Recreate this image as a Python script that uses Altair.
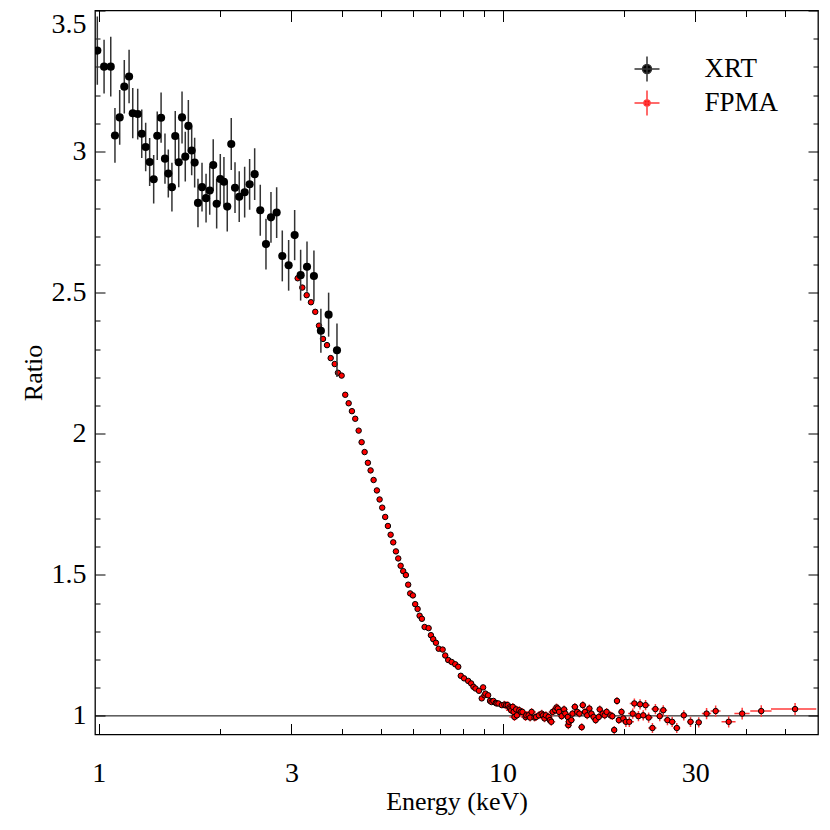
import altair as alt
import pandas as pd

# ---------------- data ----------------
xrt_energy = [0.992, 1.031, 1.071, 1.097, 1.127, 1.157, 1.189, 1.214, 1.249, 1.278,
              1.307, 1.337, 1.368, 1.396, 1.427, 1.459, 1.487, 1.518, 1.547, 1.578,
              1.608, 1.638, 1.667, 1.699, 1.728, 1.761, 1.802, 1.844, 1.883, 1.921,
              1.959, 2.000, 2.042, 2.081, 2.129, 2.175, 2.228, 2.298, 2.364, 2.433,
              2.512, 2.595, 2.670, 2.758, 2.848, 2.953, 3.056, 3.162, 3.279, 3.411,
              3.549, 3.709, 3.890]
xrt_ratio = [3.358, 3.301, 3.301, 3.057, 3.121, 3.230, 3.266, 3.136, 3.133, 3.063,
             3.016, 2.963, 2.902, 3.056, 3.120, 2.975, 2.922, 2.874, 3.055, 2.962,
             3.121, 2.982, 3.091, 3.004, 2.961, 2.818, 2.874, 2.835, 2.862, 2.952,
             2.815, 2.903, 2.893, 2.805, 3.027, 2.872, 2.840, 2.856, 2.884, 2.920,
             2.792, 2.672, 2.767, 2.784, 2.630, 2.597, 2.704, 2.562, 2.592, 2.559,
             2.365, 2.422, 2.296]
xrt_ratio_err = [0.121, 0.095, 0.106, 0.097, 0.097, 0.095, 0.095, 0.089, 0.090, 0.086,
                 0.086, 0.085, 0.086, 0.086, 0.089, 0.089, 0.085, 0.086, 0.089, 0.088,
                 0.092, 0.088, 0.092, 0.088, 0.088, 0.086, 0.086, 0.086, 0.086, 0.092,
                 0.088, 0.088, 0.088, 0.088, 0.092, 0.090, 0.090, 0.090, 0.090, 0.092,
                 0.090, 0.090, 0.090, 0.090, 0.090, 0.090, 0.089, 0.090, 0.089, 0.090,
                 0.078, 0.078, 0.095]

# FPMA, steep part (3-8 keV): error bars hidden under the markers
fpma_energy_steep = [3.109, 3.192, 3.273, 3.354, 3.437, 3.511, 3.592, 3.675, 3.753, 3.840,
                     3.912, 3.995, 4.078, 4.158, 4.236, 4.317, 4.402, 4.477, 4.554, 4.640,
                     4.712, 4.793, 4.884, 4.960, 5.035, 5.121, 5.201, 5.282, 5.361, 5.444,
                     5.516, 5.592, 5.675, 5.762, 5.838, 5.905, 5.997, 6.076, 6.160, 6.231,
                     6.313, 6.411, 6.559, 6.646, 6.734, 6.839, 6.945, 7.105, 7.211, 7.335,
                     7.479, 7.634, 7.766]
fpma_ratio_steep = [2.551, 2.518, 2.491, 2.466, 2.432, 2.383, 2.336, 2.314, 2.268, 2.247,
                    2.216, 2.206, 2.138, 2.108, 2.080, 2.053, 2.011, 1.970, 1.935, 1.897,
                    1.870, 1.836, 1.799, 1.767, 1.738, 1.705, 1.673, 1.642, 1.615, 1.583,
                    1.558, 1.532, 1.513, 1.499, 1.465, 1.434, 1.427, 1.396, 1.379, 1.355,
                    1.344, 1.315, 1.311, 1.286, 1.272, 1.259, 1.238, 1.235, 1.214, 1.198,
                    1.191, 1.183, 1.174]
fpma_err_steep = (0.004, 0.03)   # (ratio error, energy half-width)

fpma_energy_knee = [7.88, 8.03, 8.22, 8.36, 8.47, 8.57, 8.74, 8.88, 8.95, 9.02,
                    9.07, 9.21, 9.31, 9.39, 9.49, 9.62, 9.67, 9.77, 9.96]
fpma_ratio_knee = [1.142, 1.133, 1.124, 1.115, 1.103, 1.097, 1.089, 1.062, 1.101, 1.073,
                   1.079, 1.073, 1.053, 1.049, 1.053, 1.046, 1.044, 1.044, 1.038]
fpma_err_knee = (0.008, 0.10)

fpma_energy_flat = [10.1, 10.2, 10.3, 10.4, 10.45, 10.5, 10.6, 10.65, 10.7, 10.8,
                    10.85, 11.0, 11.1, 11.2, 11.4, 11.45, 11.6, 11.7, 11.8, 12.0,
                    12.1, 12.3, 12.5, 12.6, 12.7, 12.8, 13.0, 13.1, 13.2, 13.3,
                    13.5, 13.6, 13.7, 13.8, 14.0, 14.2, 14.3, 14.5, 14.55, 14.6,
                    14.8, 14.9, 15.1, 15.3, 15.5, 15.7, 15.8, 16.0, 16.2, 16.4,
                    16.6, 16.8, 17.0, 17.3, 17.4, 17.7, 17.9, 18.1, 18.5, 18.7,
                    18.9, 19.2, 19.4, 19.7, 19.9]
fpma_ratio_flat = [1.040, 1.038, 1.038, 1.030, 1.026, 1.020, 1.032, 1.014, 0.996, 1.023,
                   1.002, 1.020, 1.014, 1.014, 0.996, 1.002, 1.002, 0.994, 1.014, 0.994,
                   0.996, 1.002, 1.008, 1.002, 0.991, 1.002, 0.996, 0.985, 0.979, 1.014,
                   1.020, 1.030, 1.026, 1.014, 0.999, 1.023, 1.008, 0.996, 0.967, 0.979,
                   0.985, 1.008, 1.032, 1.014, 1.008, 0.960, 1.038, 1.014, 1.002, 1.026,
                   1.008, 0.996, 0.985, 0.996, 1.023, 1.008, 1.002, 1.014, 1.002, 0.999,
                   0.950, 1.053, 0.985, 1.014, 0.991]
fpma_err_flat = (0.014, 0.30)

fpma_energy_high = [20.2, 20.6, 21.0, 21.2, 21.7, 21.9, 22.3, 22.6, 23.0, 23.5,
                    23.9, 24.5, 25.0, 25.6, 26.3, 27.0, 28.1, 29.2, 30.6]
fpma_ratio_high = [0.979, 0.979, 1.008, 1.044, 0.999, 1.041, 1.002, 1.038, 0.994, 0.957,
                   1.024, 0.999, 1.020, 0.985, 0.979, 0.957, 1.002, 0.979, 0.977]
fpma_err_high = (0.018, 0.55)

fpma_energy_wide = [32.0, 33.7, 36.3, 39.2, 43.7, 53.0]
fpma_ratio_wide = [1.008, 1.017, 0.979, 1.008, 1.017, 1.024]
fpma_ratio_err_wide = [0.020, 0.020, 0.020, 0.021, 0.021, 0.022]
fpma_energy_err_wide = [0.85, 0.95, 1.45, 1.7, 2.65, 6.8]

legend_names = ["XRT", "FPMA"]
unity_level = [1.0]

x_domain = [0.979, 60.4]
y_domain = [0.934, 3.5]
x_major_ticks = [1, 3, 10, 30]
x_minor_ticks = [2, 4, 5, 6, 7, 8, 9, 20, 40, 50]
y_major_ticks = [1.0, 1.5, 2.0, 2.5, 3.0, 3.5]
y_minor_ticks = [1.1, 1.2, 1.3, 1.4, 1.6, 1.7, 1.8, 1.9, 2.1, 2.2, 2.3, 2.4,
                 2.6, 2.7, 2.8, 2.9, 3.1, 3.2, 3.3, 3.4]

# ---------------- tables ----------------
xrt = pd.DataFrame({"energy": xrt_energy, "ratio": xrt_ratio, "err": xrt_ratio_err})
xrt["lo"] = xrt["ratio"] - xrt["err"]
xrt["hi"] = xrt["ratio"] + xrt["err"]

parts = []
for e, r, (dr, de) in [(fpma_energy_steep, fpma_ratio_steep, fpma_err_steep),
                       (fpma_energy_knee, fpma_ratio_knee, fpma_err_knee),
                       (fpma_energy_flat, fpma_ratio_flat, fpma_err_flat),
                       (fpma_energy_high, fpma_ratio_high, fpma_err_high)]:
    parts.append(pd.DataFrame({"energy": e, "ratio": r, "rerr": dr, "eerr": de}))
parts.append(pd.DataFrame({"energy": fpma_energy_wide, "ratio": fpma_ratio_wide,
                           "rerr": fpma_ratio_err_wide, "eerr": fpma_energy_err_wide}))
fpma = pd.concat(parts, ignore_index=True)
fpma["rlo"] = fpma["ratio"] - fpma["rerr"]
fpma["rhi"] = fpma["ratio"] + fpma["rerr"]
fpma["elo"] = fpma["energy"] - fpma["eerr"]
fpma["ehi"] = fpma["energy"] + fpma["eerr"]

# ---------------- styling ----------------
FONT = "Liberation Serif"
x_scale = alt.Scale(type="log", domain=x_domain, nice=False)
y_scale = alt.Scale(domain=y_domain, nice=False, zero=False)


def tick_axis(orient, values, size):
    # ticks pointing into the plot: the axis line is pulled inside by its own tick length
    return alt.Axis(orient=orient, values=values, tickSize=size, offset=-size,
                    labels=False, domain=False, grid=False, title=None, ticks=True,
                    tickColor="black", tickWidth=1)


main_x_axis = alt.Axis(orient="bottom", values=x_major_ticks, format="~g", ticks=False,
                       tickSize=0, domain=False, grid=False, labelFont=FONT,
                       labelFontSize=28, labelColor="black", labelPadding=25,
                       labelFlush=False, title="Energy (keV)", titleFont=FONT,
                       titleFontSize=26, titleFontWeight="normal", titleColor="black",
                       titleY=54, titleBaseline="top")
main_y_axis = alt.Axis(orient="left", values=y_major_ticks, format="~g", ticks=False,
                       tickSize=0, domain=False, grid=False, labelFont=FONT,
                       labelFontSize=28, labelColor="black", labelPadding=9,
                       labelFlush=True, title="Ratio", titleFont=FONT, titleFontSize=26,
                       titleFontWeight="normal", titleColor="black", titlePadding=5)

unity = alt.Chart(pd.DataFrame({"ratio": unity_level})).mark_rule(
    color="black", strokeWidth=1).encode(
    y=alt.Y("ratio:Q", scale=y_scale, axis=None))

fpma_xerr = alt.Chart(fpma).mark_rule(color="#ff3b3b", strokeWidth=1.5, clip=True).encode(
    x=alt.X("elo:Q", scale=x_scale, axis=tick_axis("bottom", x_major_ticks, 11)),
    x2="ehi:Q",
    y=alt.Y("ratio:Q", scale=y_scale, axis=tick_axis("left", y_major_ticks, 10)))

fpma_yerr = alt.Chart(fpma).mark_rule(color="#ff3b3b", strokeWidth=1.5, clip=True).encode(
    x=alt.X("energy:Q", scale=x_scale, axis=tick_axis("bottom", x_minor_ticks, 6)),
    y=alt.Y("rlo:Q", scale=y_scale, axis=tick_axis("left", y_minor_ticks, 5)),
    y2="rhi:Q")

fpma_pts = alt.Chart(fpma).mark_circle(size=30, fill="#ff0000", stroke="black",
                                       strokeWidth=1, opacity=1, clip=True).encode(
    x=alt.X("energy:Q", scale=x_scale, axis=tick_axis("top", x_major_ticks, 11)),
    y=alt.Y("ratio:Q", scale=y_scale, axis=tick_axis("right", y_major_ticks, 10)))

xrt_yerr = alt.Chart(xrt).mark_rule(color="#333333", strokeWidth=1.5, clip=True).encode(
    x=alt.X("energy:Q", scale=x_scale, axis=tick_axis("top", x_minor_ticks, 6)),
    y=alt.Y("lo:Q", scale=y_scale, axis=tick_axis("right", y_minor_ticks, 5)),
    y2="hi:Q")

xrt_pts = alt.Chart(xrt).mark_circle(size=66, color="black", opacity=1, clip=True).encode(
    x=alt.X("energy:Q", scale=x_scale, axis=main_x_axis),
    y=alt.Y("ratio:Q", scale=y_scale, axis=main_y_axis))

path_xrt = ("M-1,0L1,0M0,-1L0,1M0.36,0A0.36,0.36,0,1,1,-0.36,0"
            "A0.36,0.36,0,1,1,0.36,0Z")
path_fpma = ("M-1,0L1,0M0,-1L0,1M0.24,0A0.24,0.24,0,1,1,-0.24,0"
             "A0.24,0.24,0,1,1,0.24,0Z")

legend = alt.Legend(orient="none", legendX=538.5, legendY=45, title=None,
                    labelFont=FONT, labelFontSize=27, labelColor="black",
                    symbolSize=625, symbolStrokeWidth=1.5, labelOffset=44,
                    rowPadding=3, padding=0)

legend_layer = alt.Chart(alt.Data(values=[])).mark_point(filled=True, opacity=1).encode(
    fill=alt.Fill("series:N", scale=alt.Scale(domain=legend_names,
                                              range=["black", "#ff0000"]), legend=legend),
    stroke=alt.Stroke("series:N", scale=alt.Scale(domain=legend_names,
                                                  range=["#333333", "#ff3b3b"]), legend=legend),
    shape=alt.Shape("series:N", scale=alt.Scale(domain=legend_names,
                                                range=[path_xrt, path_fpma]), legend=legend))

chart = alt.layer(unity, fpma_xerr, fpma_yerr, fpma_pts, xrt_yerr, xrt_pts,
                  legend_layer).resolve_axis(
    x="independent", y="independent").properties(
    width=723, height=724,
    padding={"left": 87, "top": 2.5, "right": 4, "bottom": 86},
    autosize=alt.AutoSizeParams(type="none"),
    background="white").configure_view(stroke="black", strokeWidth=1.3)

chart.save("out.html", embed_options={"renderer": "svg", "actions": False})
